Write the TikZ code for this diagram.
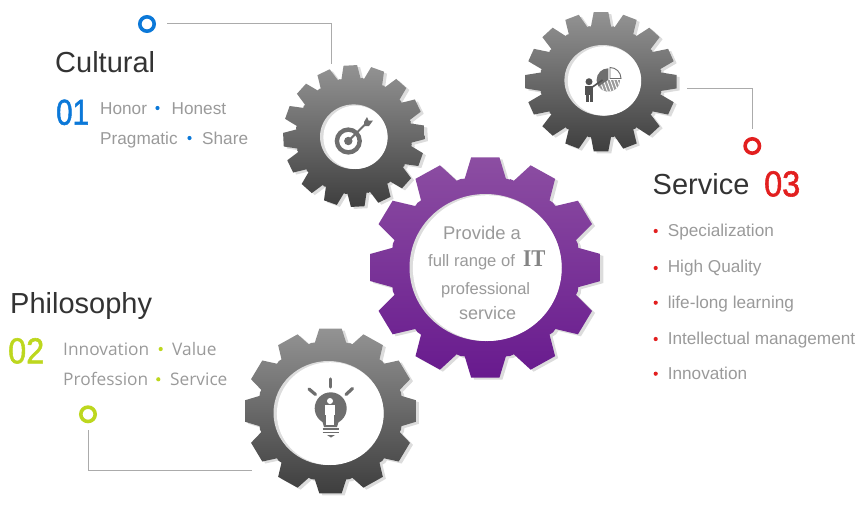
\documentclass[tikz,border=0pt]{standalone}
\usepackage{fontspec}
\setmainfont{Liberation Sans}
\newfontfamily\softfont{Open Sans}
\newfontfamily\numfont[FakeBold=1.6]{Liberation Sans}
\newfontfamily\itfont{Liberation Serif}
\definecolor{cblue}{HTML}{0B78D8}
\definecolor{cgreen}{HTML}{BDD71E}
\definecolor{cred}{HTML}{E21F1F}
\definecolor{linec}{HTML}{ABABAB}
\definecolor{bodyc}{HTML}{9A9A9A}
\definecolor{headc}{HTML}{333333}
\definecolor{iconc}{HTML}{6E6E6E}
\definecolor{shadowc}{HTML}{DCDCDC}
\definecolor{gtop}{HTML}{939393}
\definecolor{gbot}{HTML}{3E3E3E}
\definecolor{ptop}{HTML}{8C4EA2}
\definecolor{pbot}{HTML}{681A8E}
\newcommand\gearpt[2]{%
  \pgfmathsetmacro\gx{\gcx+\gk*(#2)*cos(#1)}%
  \pgfmathsetmacro\gy{\gcy-(#2)*sin(#1)}%
  \xdef\gearP{\gearP -- (\gx,\gy)}}
% cx cy rx ry root teeth phase tiphalf basehalf
\newcommand\mkgear[9]{%
  \gdef\gearP{}%
  \def\gcx{#1}\def\gcy{#2}%
  \pgfmathsetmacro\gk{#3/#4}%
  \pgfmathsetmacro\gh{180/#6}%
  \pgfmathsetmacro\gsx{#1+\gk*(#5)*cos(#7-\gh)}%
  \pgfmathsetmacro\gsy{#2-(#5)*sin(#7-\gh)}%
  \xdef\gearP{(\gsx,\gsy)}%
  \foreach \gi in {1,...,#6}{%
    \pgfmathsetmacro\ga{#7+360/#6*(\gi-1)}%
    \gearpt{\ga-#9}{#5}%
    \gearpt{\ga-#8}{#4}%
    \gearpt{\ga+#8}{#4}%
    \gearpt{\ga+#9}{#5}%
    \gearpt{\ga+\gh}{#5+0.6}%
  }%
  \xdef\gearP{\gearP -- cycle}}
% cx cy rx ry : hole with crescent
\newcommand\gearhole[4]{%
  \fill[shadowc] (#1,#2) ellipse [x radius=#3 pt, y radius=#4 pt];
  \fill[white] (#1+1.8,#2+0.6) ellipse [x radius=#3 pt -1.6pt, y radius=#4 pt -0.6pt];}
\tikzset{
  wire/.style={draw=linec,line width=1pt},
  ringmark/.style={circle,draw=#1,line width=3.6pt,minimum size=14.4pt,inner sep=0pt,fill=white},
  headtext/.style={anchor=base west,inner sep=0pt,text=headc,font=\fontsize{29}{29}\selectfont},
  numtext/.style={anchor=base west,inner sep=0pt,text=#1,font=\fontsize{36}{36}\numfont},
  bodytext/.style={anchor=base west,inner sep=0pt,text=bodyc,font=\fontsize{17.2}{17.2}\selectfont},
  softtext/.style={anchor=base west,inner sep=0pt,text=bodyc,font=\fontsize{17.3}{17.3}\softfont},
  dotmark/.style={circle,fill=#1,minimum size=4.2pt,inner sep=0pt},
  centertext/.style={anchor=base west,inner sep=0pt,text=bodyc},
}
\begin{document}
\begin{tikzpicture}[x=1pt,y=-1pt]
\useasboundingbox (0,0) rectangle (865,528);
% gear 1
\mkgear{354}{136}{71}{71}{58}{16}{3}{5.5}{9.5}
\fill[shadowc,shift={(3,2)}] \gearP;
\shade[top color=gtop,bottom color=gbot] \gearP;
\gearhole{353.7}{136.7}{33.7}{32.3}
% gear 2
\mkgear{601}{81.7}{76}{70}{56}{16}{90}{5.5}{9.5}
\fill[shadowc,shift={(3,2)}] \gearP;
\shade[top color=gtop,bottom color=gbot] \gearP;
\gearhole{602.7}{80.3}{38.3}{35.3}
% gear 3
\mkgear{330.5}{411}{86}{83}{70}{12}{90}{7.5}{12.5}
\fill[shadowc,shift={(3,2)}] \gearP;
\shade[top color=gtop,bottom color=gbot] \gearP;
\gearhole{328.5}{413}{55}{52}
% main gear
\mkgear{485.3}{267.5}{116}{111}{91}{12}{90}{7}{12.5}
\fill[shadowc,shift={(3,2)}] \gearP;
\shade[top color=ptop,bottom color=pbot] \gearP;
\gearhole{485.5}{267.5}{76}{73.5}

% target icon
\draw[iconc,line width=4.4pt] (348.3,141) circle [radius=11.4pt];
\fill[iconc] (348.3,141) circle [radius=4.2pt];
\draw[iconc,line width=2pt] (348.3,141) -- (366,123.5);
\fill[iconc] (364,122) -- (367,117) -- (368.5,120.5) -- (373,120.5) -- (369,126) -- (364.5,126) -- cycle;

% presentation icon
\begin{scope}[shift={(608.3,80)},x=1pt,y=1pt]
\fill[iconc] (0,0) -- (90:11.7) arc [start angle=90,end angle=215,radius=11.7] -- cycle;
\fill[iconc!70] (0,0) -- (215:11.7) arc [start angle=215,end angle=360,radius=11.7] -- cycle;
\begin{scope}
\clip (0,0) -- (215:11.7) arc [start angle=215,end angle=360,radius=11.7] -- cycle;
\foreach \hs in {-12,-8.5,-5,-1.5,2,5.5,9}{\draw[white,line width=0.9pt] (\hs,0) -- (\hs+5,-14);}
\end{scope}
\draw[iconc,line width=0.9pt,fill=white] (1.7,1.5) -- (1.7,12.5) arc [start angle=90,end angle=0,radius=11] -- cycle;
\end{scope}
\fill[headc!85] (589,81.7) circle [radius=3.5pt];
\fill[headc!85] (585,86) rectangle (593.3,95);
\fill[headc!85] (586,94) rectangle (589,101.7);
\fill[headc!85] (589.5,94) rectangle (592.5,101.7);
\draw[headc!85,line width=1.6pt] (591,88) -- (602.5,80);

% bulb icon
\fill[iconc] (330.7,408.3) circle [radius=16pt];
\fill[iconc] (321,417) -- (340,417) -- (337,427) -- (324,427) -- cycle;
\draw[iconc,line width=1.6pt] (322.5,429) -- (339,429);
\draw[iconc,line width=1.6pt] (322.5,432.5) -- (339,432.5);
\fill[iconc] (327,435) -- (335,435) -- (331,437.5) -- cycle;
\draw[iconc,line width=3.2pt,line cap=round] (330.7,379) -- (330.7,387);
\draw[iconc,line width=3.2pt,line cap=round] (309,389) -- (315.5,394.5);
\draw[iconc,line width=3.2pt,line cap=round] (352.5,388.5) -- (346,394.5);
\fill[white] (330,401) circle [radius=3pt];
\fill[white] (325,404.5) rectangle (335,414.5);
\fill[white] (326.4,414) rectangle (329.6,425);
\fill[white] (330.4,414) rectangle (333.6,425);

% Cultural
\node[ringmark=cblue] (ringA) at (147,24) {};
\coordinate (ringAend) at (167,23.7);
\coordinate (gearAend) at (331,64);
\draw[wire] (ringAend) -| (gearAend);
\node[headtext] (headA) at (55,72) {Cultural};
\node[numtext=cblue] (numA) at (56,124.7) {\scalebox{0.82}[1]{01}};
\node[bodytext] (a1) at (100,114.5) {Honor};
\node[dotmark=cblue] (da1) at (157.5,108) {};
\node[bodytext] (a2) at (171.5,114.5) {Honest};
\node[bodytext] (a3) at (100,144) {Pragmatic};
\node[dotmark=cblue] (da2) at (189.5,138) {};
\node[bodytext] (a4) at (202,144) {Share};

% Philosophy
\node[headtext] (headB) at (10,313.5) {Philosophy};
\node[numtext=cgreen] (numB) at (8,363.3) {\scalebox{0.9}[1]{02}};
\node[softtext] (b1) at (63,355.5) {Innovation};
\node[dotmark=cgreen] (db1) at (160.7,349) {};
\node[softtext] (b2) at (172,355.5) {Value};
\node[softtext] (b3) at (63,385.5) {Profession};
\node[dotmark=cgreen] (db2) at (158.3,379.3) {};
\node[softtext] (b4) at (170,385.5) {Service};
\node[ringmark=cgreen] (ringB) at (88,414.3) {};
\coordinate (ringBend) at (88.3,430);
\coordinate (gearBend) at (252,470.7);
\draw[wire] (ringBend) |- (gearBend);

% Service
\node[ringmark=cred] (ringC) at (752.3,146) {};
\coordinate (ringCend) at (752,129);
\coordinate (gearCend) at (687,88.3);
\draw[wire] (gearCend) -| (ringCend);
\node[headtext] (headC) at (652.5,194.8) {Service};
\node[numtext=cred] (numC) at (764,196.3) {\scalebox{0.9}[1]{03}};
\foreach \nm/\yb/\yd/\tx in {c1/236.7/231/Specialization,c2/272.3/268/High Quality,c3/308.3/302.7/life-long learning,c4/344.3/339/Intellectual management,c5/379.3/373.7/Innovation}{
  \node[bodytext] (\nm) at (667.6,\yb) {\tx};
  \node[dotmark=cred] (d\nm) at (655.7,\yd) {};
}

% centre text
\node[centertext,font=\fontsize{18.4}{18.4}\selectfont] (m1) at (443,239.3) {Provide a};
\node[centertext,font=\fontsize{16.6}{16.6}\selectfont] (m2) at (428,266.7) {full range of};
\node[centertext,text=iconc!85,font=\fontsize{24}{24}\itfont\bfseries] (m3) at (523,266.7) {\scalebox{0.88}[1]{IT}};
\node[centertext,font=\fontsize{16.5}{16.5}\selectfont] (m4) at (441,294) {professional};
\node[centertext,font=\fontsize{18}{18}\selectfont] (m5) at (459,319) {service};
\end{tikzpicture}
\end{document}
